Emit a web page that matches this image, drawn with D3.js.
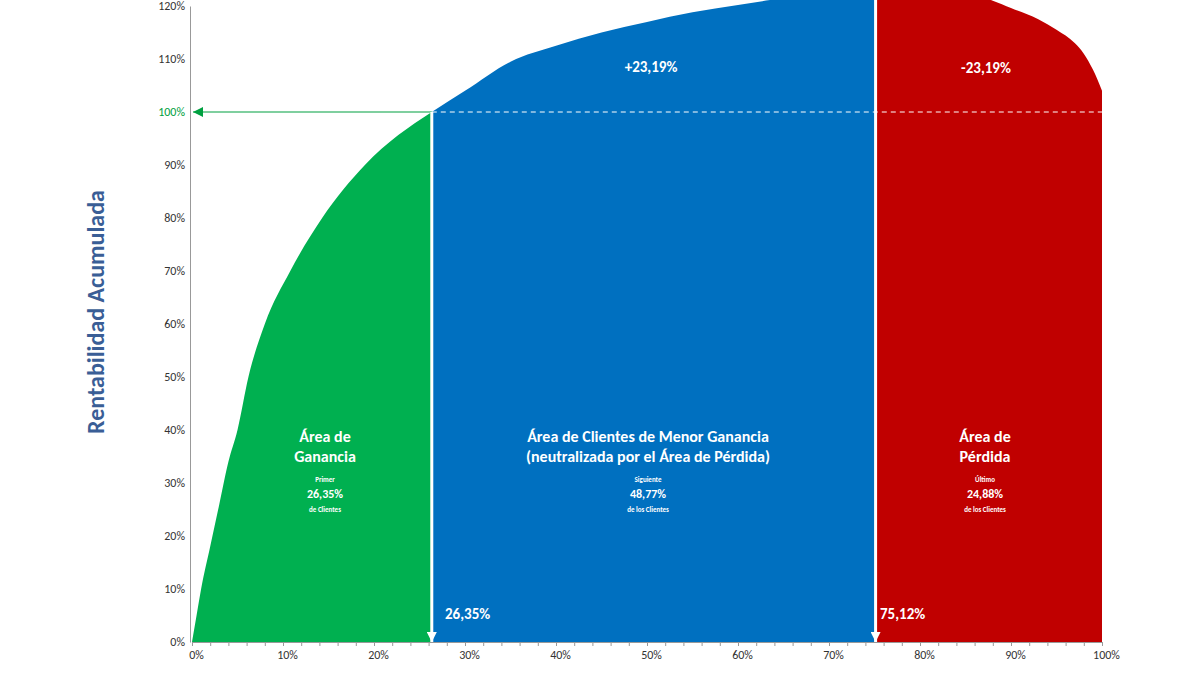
<!DOCTYPE html>
<html><head><meta charset="utf-8">
<script src="https://cdn.jsdelivr.net/npm/d3@7"></script>
<style>body{margin:0;background:#fff}text{font-family:Calibri,Carlito,"Open Sans",sans-serif}</style>
</head><body><svg id="c" width="1200" height="675"></svg>
<script>
const greenCurve=[[0,0],[0.5,5],[1,10],[2,18],[3,26],[4,34],[5,40],[6.2,50],[8,60],[10.8,70],[14.3,80],[19,90],[26.35,100]];
const blueCurve=[[26.35,100],[30,104],[35,109.5],[40,112.5],[45,115],[50,117],[55,118.8],[60,120.2],[65,121.5],[70,122.6],[75.12,123.19]];
const redCurve=[[75.12,123.19],[80,123],[85,122.2],[88,121],[90,119.6],[93,117.5],[95,115.5],[97,113],[98,111],[99,108],[100,104]];
const xTicks=[0,10,20,30,40,50,60,70,80,90,100];
const yTicks=[0,10,20,30,40,50,60,70,80,90,100,110,120];
const cut1=26.35,cut2=75.12;

const svg=d3.select("#c");
const x=d3.scaleLinear().domain([0,100]).range([192,1102]);
const y=d3.scaleLinear().domain([0,120]).range([642,6]);
const area=d3.area().x(d=>x(d[0])).y0(y(0)).y1(d=>y(d[1])).curve(d3.curveMonotoneX);
[[greenCurve,"#00b050"],[blueCurve,"#0070c0"],[redCurve,"#c00000"]].forEach(([d,c])=>svg.append("path").attr("d",area(d)).attr("fill",c));

// axes
const ya=svg.append("g").attr("transform","translate(190,0)").call(d3.axisLeft(y).tickValues(yTicks).tickSize(0).tickFormat(d=>d+"%"));
ya.select(".domain").attr("stroke","#999");
ya.selectAll("text").attr("font-size",12).attr("fill",d=>d===100?"#00a040":"#333").attr("dx",-2);
const xa=svg.append("g").attr("transform","translate(0,642)").call(d3.axisBottom(x).tickValues(d3.range(0,101,2)).tickSize(4).tickFormat(d=>xTicks.includes(d)?d+"%":""));
xa.select(".domain").attr("stroke","#999");xa.selectAll("line").attr("stroke","#999");
xa.selectAll("text").attr("font-size",12).attr("fill","#333").attr("dy",10).attr("dx",4);

// dashed 100% line
svg.append("line").attr("x1",x(cut1)).attr("x2",x(100)).attr("y1",y(100)).attr("y2",y(100)).attr("stroke","#fff").attr("stroke-dasharray","5,4").attr("stroke-width",1);
// green arrow to axis
const defs=svg.append("defs");
function mk(id,c){defs.append("marker").attr("id",id).attr("viewBox","0 0 10 10").attr("refX",10).attr("refY",5).attr("markerWidth",10).attr("markerHeight",10).attr("markerUnits","userSpaceOnUse").attr("orient","auto").append("path").attr("d","M0,0L10,5L0,10z").attr("fill",c);}
mk("ag","#00a040");mk("aw","#fff");
svg.append("line").attr("x1",x(cut1)).attr("x2",193).attr("y1",y(100)).attr("y2",y(100)).attr("stroke","#00a040").attr("stroke-width",1.2).attr("marker-end","url(#ag)");
// vertical lines
[[cut1,100],[cut2,125]].forEach(([c,t])=>svg.append("line").attr("x1",x(c)).attr("x2",x(c)).attr("y1",y(t)).attr("y2",y(0)).attr("stroke","#fff").attr("stroke-width",3).attr("marker-end","url(#aw)"));

function txt(xx,yy,s,sz,w){svg.append("text").attr("x",xx).attr("y",yy).attr("text-anchor","middle").attr("fill","#fff").attr("font-size",sz).attr("font-weight",w||"bold").text(s);}
txt(325,442,"Área de",16);txt(325,462,"Ganancia",16);
txt(325,482,"Primer",7);txt(325,498,"26,35%",12);txt(325,512,"de Clientes",7);
txt(648,442,"Área de Clientes de Menor Ganancia",16);txt(648,462,"(neutralizada por el Área de Pérdida)",16);
txt(648,482,"Siguiente",7);txt(648,498,"48,77%",12);txt(648,512,"de los Clientes",7);
txt(985,442,"Área de",16);txt(985,462,"Pérdida",16);
txt(985,482,"Último",7);txt(985,498,"24,88%",12);txt(985,512,"de los Clientes",7);
txt(651,72,"+23,19%",15);txt(986,73,"-23,19%",15);
svg.append("text").attr("x",445).attr("y",619).attr("fill","#fff").attr("font-size",15).attr("font-weight","bold").text("26,35%");
svg.append("text").attr("x",880).attr("y",619).attr("fill","#fff").attr("font-size",15).attr("font-weight","bold").text("75,12%");
svg.append("text").attr("transform","translate(104,312) rotate(-90)").attr("text-anchor","middle").attr("fill","#3a5e96").attr("font-size",24).attr("font-weight","bold").text("Rentabilidad  Acumulada");
</script></body></html>
